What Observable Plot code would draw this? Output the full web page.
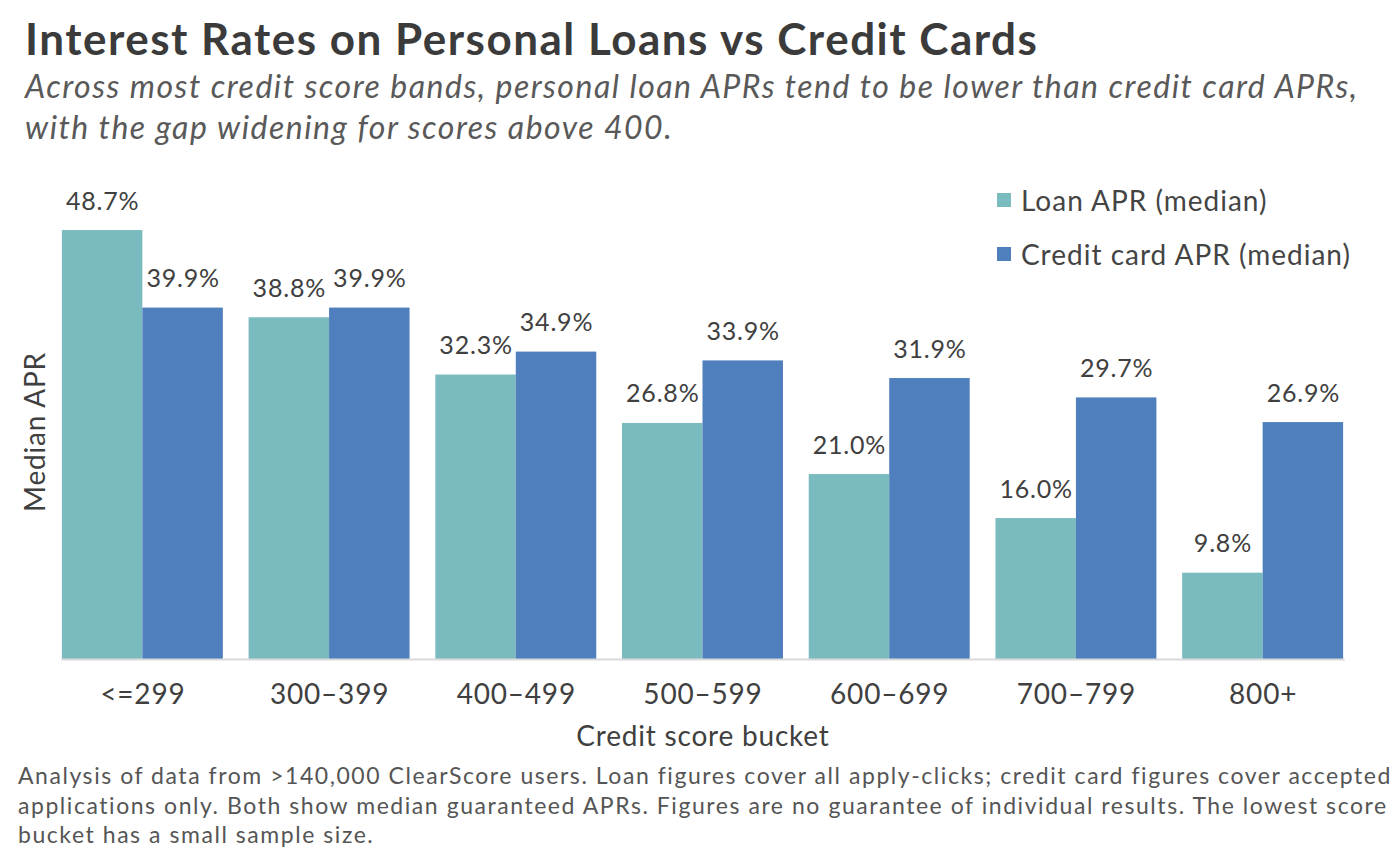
<!DOCTYPE html>
<html><head><meta charset="utf-8">
<script src="https://cdn.jsdelivr.net/npm/d3@7"></script>
<script src="https://cdn.jsdelivr.net/npm/@observablehq/plot@0.6"></script>
<style>
body{margin:0;background:#fff;font-family:Lato,sans-serif;}
#wrap{position:relative;width:1400px;height:852px;overflow:hidden;background:#fff}
#title{position:absolute;left:25px;top:11px;font-size:44px;letter-spacing:1.5px;font-weight:700;color:#3b3b3b;white-space:nowrap;line-height:54px}
#subtitle{position:absolute;left:25px;top:65px;font-size:32px;letter-spacing:1.5px;font-style:italic;color:#595959;line-height:41px;white-space:nowrap}
#chart{position:absolute;left:0;top:160px}
#ylabel{position:absolute;left:34px;top:432px;transform:translate(-50%,-50%) rotate(-90deg);font-size:28px;line-height:28px;letter-spacing:0.8px;color:#404040;white-space:nowrap}
#legend{position:absolute;left:997px;top:184px;font-size:28px;letter-spacing:1px;color:#444}
#legend .row{display:flex;align-items:center;height:32px;margin-bottom:22px;white-space:nowrap}
#legend .sw{width:14px;height:14px;margin-right:10px;flex:none}
#caption{position:absolute;left:18px;top:761px;font-size:23px;letter-spacing:1.55px;color:#555;line-height:29.5px;white-space:nowrap}
</style>
</head><body>
<div id="wrap">
  <div id="title">Interest Rates on Personal Loans vs Credit Cards</div>
  <div id="subtitle">Across most credit score bands, personal loan APRs tend to be lower than credit card APRs,<br>with the gap widening for scores above 400.</div>
  <div id="chart"></div>
  <div id="ylabel">Median APR</div>
  <div id="legend"></div>
  <div id="caption">Analysis of data from &gt;140,000 ClearScore users. Loan figures cover all apply-clicks; credit card figures cover accepted<br>applications only. Both show median guaranteed APRs. Figures are no guarantee of individual results. The lowest score<br>bucket has a small sample size.</div>
</div>
<script>
const buckets = ["<=299", "300–399", "400–499", "500–599", "600–699", "700–799", "800+"];
const loanAPR = [48.7, 38.8, 32.3, 26.8, 21.0, 16.0, 9.8];
const cardAPR = [39.9, 39.9, 34.9, 33.9, 31.9, 29.7, 26.9];
const seriesNames = ["Loan APR (median)", "Credit card APR (median)"];
const seriesColors = ["#7abbbf", "#4f7fbd"];

const rows = [];
buckets.forEach((b, i) => {
  rows.push({bucket: b, series: seriesNames[0], value: loanAPR[i]});
  rows.push({bucket: b, series: seriesNames[1], value: cardAPR[i]});
});

const chart = Plot.plot({
  width: 1400,
  height: 600,
  marginTop: 41,
  marginBottom: 101,
  marginLeft: 49,
  marginRight: 44,
  facet: {marginTop: 0, marginBottom: 0, marginLeft: 0, marginRight: 0},
  style: {fontFamily: "Lato, sans-serif", background: "transparent", overflow: "visible", letterSpacing: "0.8px"},
  fx: {domain: buckets, paddingInner: 0.138, paddingOuter: 0.069, round: false, label: null},
  x: {domain: seriesNames, padding: 0, round: false, axis: null},
  y: {domain: [0, 52], axis: null},
  color: {domain: seriesNames, range: seriesColors},
  marks: [
    Plot.barY(rows, {fx: "bucket", x: "series", y: "value", fill: "series"}),
    Plot.text(rows, {fx: "bucket", x: "series", y: "value", text: d => d.value.toFixed(1) + "%", dy: -29, fontSize: 25, fill: "#404040"}),
    Plot.frame({anchor: "bottom", stroke: "#d9d9d9", strokeWidth: 2, facet: "super"}),
    Plot.axisFx({anchor: "bottom", tickSize: 0, tickPadding: 25, fontSize: 28, label: null, color: "#404040"}),
    Plot.text(["Credit score bucket"], {frameAnchor: "bottom", lineAnchor: "middle", dy: 78, fontSize: 28, fill: "#404040", facet: "super"})
  ]
});
document.getElementById("chart").appendChild(chart);

const legend = document.getElementById("legend");
seriesNames.forEach((s, i) => {
  const row = document.createElement("div");
  row.className = "row";
  const sw = document.createElement("div");
  sw.className = "sw";
  sw.style.background = seriesColors[i];
  const t = document.createElement("span");
  t.textContent = s;
  row.appendChild(sw); row.appendChild(t);
  legend.appendChild(row);
});
</script>
</body></html>
